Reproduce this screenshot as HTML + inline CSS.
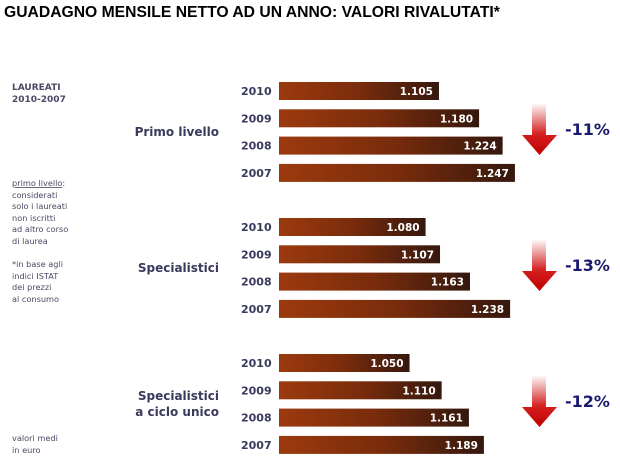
<!DOCTYPE html>
<html><head><meta charset="utf-8"><style>
body{margin:0;background:#fff;width:620px;height:458px;overflow:hidden;font-family:"DejaVu Sans","Liberation Sans",sans-serif}
</style></head><body>
<svg width="620" height="458">
<defs>
<linearGradient id="bg" x1="0" x2="1" y1="0" y2="0"><stop offset="0" stop-color="#9c3a0e"/><stop offset="0.5" stop-color="#7a2c0c"/><stop offset="1" stop-color="#35180e"/></linearGradient>
<linearGradient id="ag" x1="0" x2="0" y1="0" y2="1"><stop offset="0" stop-color="#fff"/><stop offset="0.6" stop-color="#d42020"/><stop offset="1" stop-color="#c00000"/></linearGradient>
</defs>
<text x="4" y="17" font-family="Liberation Sans" font-weight="bold" font-size="15.7" fill="#000">GUADAGNO MENSILE NETTO AD UN ANNO: VALORI RIVALUTATI*</text>
<g font-size="9" fill="#4a4a66" font-weight="bold">
<text x="12" y="90">LAUREATI</text><text x="12" y="102">2010-2007</text></g>
<g font-size="8.2" fill="#4a4a66">
<text x="12" y="186"><tspan text-decoration="underline">primo livello</tspan>:</text>
<text x="12" y="198">considerati</text><text x="12" y="209">solo i laureati</text>
<text x="12" y="221">non iscritti</text><text x="12" y="232">ad altro corso</text>
<text x="12" y="244">di laurea</text>
<text x="12" y="267">*in base agli</text><text x="12" y="279">indici ISTAT</text>
<text x="12" y="290">dei prezzi</text><text x="12" y="302">al consumo</text>
<text x="12" y="441">valori medi</text><text x="12" y="453">in euro</text></g>
<g id="bars"></g>
</svg>
<script>
const groups=["Primo livello","Specialistici","Specialistici|a ciclo unico"];
const years=["2010","2009","2008","2007"];
const values=[[1105,1180,1224,1247],[1080,1107,1163,1238],[1050,1110,1161,1189]];
const changes=["-11%","-13%","-12%"];
const groupTop=[91,227,363];
const rowGap=27.3;
const x=v=>279+(v-806)*0.535;
const g=document.getElementById('bars');
const ns="http://www.w3.org/2000/svg";
function mk(t,a,txt){const e=document.createElementNS(ns,t);for(const k in a)e.setAttribute(k,a[k]);if(txt)e.textContent=txt;g.appendChild(e);return e;}
groups.forEach((gn,gi)=>{
  const y0=groupTop[gi];
  const lines=gn.split('|');
  const cy=y0+rowGap*1.5;
  lines.forEach((l,li)=>{
    const t=mk('text',{x:219,y:cy+4+(li-(lines.length-1)/2)*16,'text-anchor':'end','font-size':'12','font-weight':'bold',fill:'#3a3a5c'},l);
    
    
  });
  values[gi].forEach((v,i)=>{
    const cyr=y0+i*rowGap;
    const yl=mk('text',{x:241,y:cyr+4,'font-size':'11','font-weight':'bold',fill:'#3a3a5c'},years[i]);
    
    
    const r=mk('rect',{x:279,y:cyr-9,width:x(v)-279,height:18,fill:'url(#bg)'});
    
    
    const vl=mk('text',{x:x(v)-6,y:cyr+4,'text-anchor':'end','font-size':'10.5','font-weight':'bold',fill:'#fff'},(v/1000).toFixed(3));
    
    
  });
  const ay=y0+12;
  const ar=mk('path',{d:`M532 ${ay} H546 V${ay+32} H557 L539.5 ${ay+52} L522 ${ay+32} H532 Z`,fill:'url(#ag)'});
  
  
  const cl=mk('text',{x:565,y:ay+32,'font-size':'16','font-weight':'bold',fill:'#1a1a6e'},changes[gi]);
  
  
});
</script>
</body></html>
